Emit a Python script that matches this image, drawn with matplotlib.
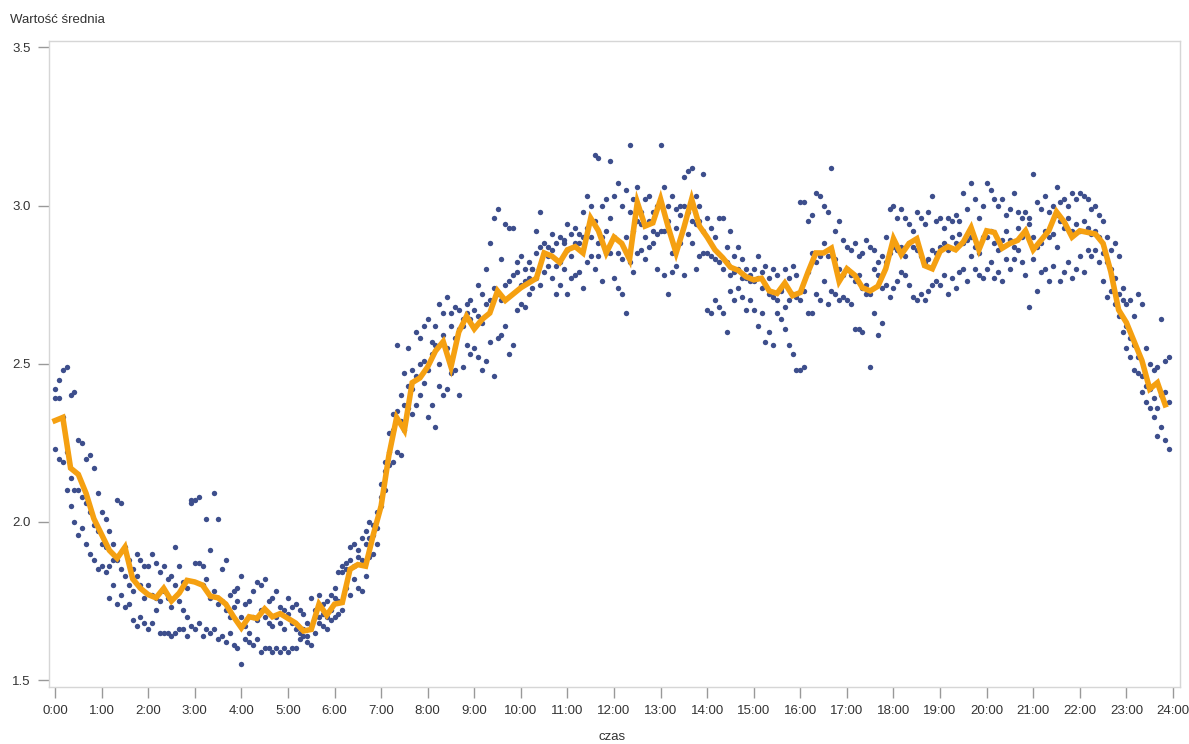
import numpy as np
import matplotlib.pyplot as plt

plt.rcParams["font.family"] = ["Liberation Sans", "DejaVu Sans"]

# orange line: value every 10 minutes, 0:00 .. 23:50
line_vals = [
    2.32, 2.33, 2.17, 2.15, 2.09, 2.01,
    1.96, 1.91, 1.885, 1.92, 1.82, 1.79,
    1.77, 1.76, 1.79, 1.75, 1.775, 1.815,
    1.81, 1.80, 1.765, 1.76, 1.74, 1.70,
    1.665, 1.70, 1.695, 1.725, 1.70, 1.71,
    1.695, 1.68, 1.655, 1.66, 1.74, 1.705,
    1.74, 1.745, 1.85, 1.865, 1.86, 1.96,
    2.05, 2.21, 2.33, 2.29, 2.44, 2.455,
    2.49, 2.54, 2.57, 2.49, 2.60, 2.65,
    2.61, 2.64, 2.66, 2.73, 2.70, 2.72,
    2.74, 2.755, 2.77, 2.85, 2.84, 2.82,
    2.86, 2.87, 2.85, 2.96, 2.92, 2.85,
    2.90, 2.88, 2.83, 3.01, 2.935, 2.945,
    3.02, 2.93, 2.85, 2.93, 3.02, 2.935,
    2.90, 2.86, 2.835, 2.805, 2.795, 2.775,
    2.765, 2.77, 2.73, 2.722, 2.755, 2.715,
    2.725, 2.79, 2.85, 2.85, 2.865, 2.76,
    2.80, 2.78, 2.74, 2.73, 2.745, 2.80,
    2.895, 2.845, 2.88, 2.895, 2.81, 2.80,
    2.855, 2.87, 2.86, 2.885, 2.93, 2.86,
    2.92, 2.915, 2.865, 2.88, 2.89, 2.92,
    2.86, 2.89, 2.92, 2.98, 2.948, 2.90,
    2.92, 2.915, 2.91, 2.88, 2.79, 2.67,
    2.63, 2.57, 2.51, 2.42, 2.44, 2.37,
]

# dots: three readings every 5 minutes, 0:00 .. 23:55 (one row per hour)
dots_a = [
    2.42, 2.45, 2.48, 2.49, 2.40, 2.41, 2.26, 2.25, 2.20, 2.21, 2.17, 2.09,
    2.03, 2.01, 1.97, 1.93, 2.07, 2.06, 1.92, 1.88, 1.85, 1.90, 1.88, 1.86,
    1.86, 1.90, 1.87, 1.84, 1.86, 1.82, 1.83, 1.92, 1.86, 1.81, 1.79, 2.06,
    2.07, 2.08, 1.86, 2.01, 1.91, 2.09, 2.01, 1.85, 1.88, 1.77, 1.78, 1.79,
    1.83, 1.74, 1.75, 1.78, 1.81, 1.80, 1.82, 1.75, 1.76, 1.78, 1.73, 1.72,
    1.76, 1.73, 1.74, 1.72, 1.71, 1.68, 1.76, 1.72, 1.77, 1.74, 1.75, 1.77,
    1.79, 1.84, 1.86, 1.87, 1.92, 1.93, 1.91, 1.95, 1.97, 2.00, 1.99, 2.03,
    2.12, 2.19, 2.28, 2.34, 2.56, 2.40, 2.47, 2.55, 2.48, 2.60, 2.58, 2.62,
    2.64, 2.57, 2.62, 2.69, 2.66, 2.71, 2.66, 2.68, 2.67, 2.62, 2.69, 2.70,
    2.67, 2.75, 2.72, 2.80, 2.88, 2.96, 2.99, 2.83, 2.94, 2.93, 2.93, 2.82,
    2.84, 2.80, 2.82, 2.80, 2.92, 2.98, 2.88, 2.87, 2.91, 2.88, 2.90, 2.89,
    2.94, 2.91, 2.93, 2.91, 2.98, 3.03, 3.00, 3.16, 3.15, 3.00, 3.02, 3.14,
    3.03, 3.07, 3.00, 3.05, 3.19, 3.02, 3.06, 2.98, 3.02, 3.03, 2.98, 3.00,
    3.19, 3.06, 3.00, 3.03, 2.99, 3.00, 3.09, 3.11, 3.12, 3.03, 3.00, 3.10,
    2.96, 2.93, 2.90, 2.96, 2.96, 2.87, 2.92, 2.84, 2.87, 2.83, 2.80, 2.78,
    2.80, 2.84, 2.79, 2.81, 2.77, 2.80, 2.78, 2.74, 2.80, 2.77, 2.81, 2.78,
    3.01, 3.01, 2.95, 2.97, 3.04, 3.03, 3.00, 2.98, 3.12, 2.92, 2.95, 2.89,
    2.87, 2.86, 2.88, 2.84, 2.85, 2.89, 2.87, 2.86, 2.82, 2.84, 2.90, 2.99,
    3.00, 2.96, 2.99, 2.96, 2.94, 2.92, 2.98, 2.96, 2.94, 2.98, 3.03, 2.95,
    2.96, 2.93, 2.96, 2.95, 2.97, 2.95, 3.04, 2.99, 3.07, 3.02, 2.96, 3.00,
    3.07, 3.05, 3.02, 3.00, 3.02, 2.97, 2.99, 3.04, 2.98, 2.96, 2.98, 2.96,
    3.10, 3.01, 2.99, 3.03, 2.98, 3.00, 3.06, 3.01, 3.02, 3.00, 3.04, 3.02,
    3.04, 3.03, 3.02, 2.99, 3.00, 2.97, 2.95, 2.90, 2.86, 2.88, 2.84, 2.74,
    2.69, 2.70, 2.65, 2.72, 2.69, 2.55, 2.50, 2.48, 2.49, 2.64, 2.51, 2.52,
]
dots_b = [
    2.39, 2.39, 2.33, 2.22, 2.14, 2.10, 2.10, 2.08, 2.06, 2.03, 1.99, 1.97,
    1.93, 1.92, 1.86, 1.88, 1.88, 1.85, 1.83, 1.80, 1.78, 1.83, 1.80, 1.76,
    1.80, 1.77, 1.76, 1.75, 1.78, 1.76, 1.73, 1.80, 1.75, 1.72, 1.70, 2.07,
    1.87, 1.87, 1.80, 1.82, 1.76, 1.78, 1.74, 1.75, 1.72, 1.70, 1.73, 1.75,
    1.70, 1.67, 1.65, 1.70, 1.69, 1.72, 1.70, 1.68, 1.67, 1.70, 1.68, 1.66,
    1.71, 1.68, 1.66, 1.65, 1.66, 1.64, 1.67, 1.70, 1.70, 1.71, 1.70, 1.72,
    1.76, 1.75, 1.84, 1.85, 1.88, 1.86, 1.89, 1.88, 1.93, 1.95, 1.96, 1.98,
    2.08, 2.16, 2.22, 2.29, 2.35, 2.32, 2.37, 2.43, 2.42, 2.46, 2.50, 2.51,
    2.48, 2.53, 2.56, 2.50, 2.59, 2.55, 2.62, 2.58, 2.61, 2.64, 2.66, 2.64,
    2.62, 2.65, 2.63, 2.69, 2.70, 2.74, 2.72, 2.70, 2.75, 2.76, 2.78, 2.79,
    2.75, 2.76, 2.77, 2.80, 2.85, 2.87, 2.85, 2.84, 2.86, 2.81, 2.82, 2.88,
    2.86, 2.84, 2.88, 2.88, 2.90, 2.93, 2.90, 2.95, 2.88, 2.90, 2.92, 2.96,
    2.90, 2.85, 2.83, 2.90, 2.98, 2.92, 2.95, 2.94, 2.90, 2.95, 2.92, 2.91,
    3.00, 2.92, 2.95, 2.85, 2.93, 2.97, 3.00, 2.98, 2.95, 2.94, 2.95, 2.92,
    2.85, 2.84, 2.83, 2.82, 2.80, 2.82, 2.78, 2.79, 2.80, 2.77, 2.77, 2.76,
    2.76, 2.77, 2.74, 2.75, 2.72, 2.71, 2.70, 2.73, 2.68, 2.70, 2.72, 2.71,
    2.70, 2.73, 2.79, 2.85, 2.82, 2.84, 2.88, 2.84, 2.86, 2.83, 2.80, 2.78,
    2.80, 2.78, 2.76, 2.78, 2.74, 2.75, 2.72, 2.80, 2.78, 2.74, 2.82, 2.85,
    2.87, 2.86, 2.87, 2.84, 2.88, 2.87, 2.86, 2.84, 2.82, 2.83, 2.86, 2.85,
    2.87, 2.88, 2.86, 2.90, 2.88, 2.91, 2.88, 2.89, 2.90, 2.87, 2.85, 2.90,
    2.90, 2.92, 2.88, 2.86, 2.89, 2.92, 2.89, 2.87, 2.93, 2.90, 2.92, 2.94,
    2.90, 2.87, 2.88, 2.92, 2.90, 2.91, 2.97, 2.95, 2.93, 2.96, 2.92, 2.94,
    2.92, 2.95, 2.93, 2.91, 2.92, 2.90, 2.85, 2.82, 2.80, 2.77, 2.72, 2.70,
    2.62, 2.58, 2.56, 2.52, 2.46, 2.43, 2.42, 2.39, 2.36, 2.40, 2.41, 2.38,
]
dots_c = [
    2.23, 2.20, 2.19, 2.10, 2.05, 2.00, 1.96, 1.98, 1.93, 1.90, 1.88, 1.85,
    1.86, 1.84, 1.76, 1.80, 1.74, 1.77, 1.73, 1.74, 1.69, 1.67, 1.70, 1.68,
    1.66, 1.68, 1.72, 1.65, 1.65, 1.65, 1.64, 1.65, 1.66, 1.66, 1.64, 1.67,
    1.66, 1.68, 1.64, 1.66, 1.65, 1.66, 1.63, 1.64, 1.62, 1.65, 1.61, 1.60,
    1.55, 1.63, 1.62, 1.61, 1.63, 1.59, 1.60, 1.60, 1.59, 1.60, 1.59, 1.60,
    1.59, 1.60, 1.60, 1.63, 1.64, 1.62, 1.61, 1.65, 1.68, 1.67, 1.66, 1.69,
    1.70, 1.71, 1.72, 1.79, 1.77, 1.82, 1.79, 1.78, 1.83, 1.89, 1.90, 1.93,
    2.05, 2.10, 2.18, 2.19, 2.22, 2.21, 2.29, 2.36, 2.34, 2.37, 2.40, 2.44,
    2.33, 2.37, 2.30, 2.43, 2.40, 2.42, 2.47, 2.48, 2.40, 2.49, 2.56, 2.53,
    2.55, 2.52, 2.48, 2.51, 2.57, 2.46, 2.58, 2.59, 2.62, 2.53, 2.56, 2.67,
    2.69, 2.68, 2.72, 2.74, 2.77, 2.75, 2.79, 2.81, 2.77, 2.72, 2.75, 2.80,
    2.72, 2.77, 2.78, 2.79, 2.74, 2.82, 2.84, 2.80, 2.84, 2.76, 2.85, 2.85,
    2.77, 2.74, 2.72, 2.66, 2.82, 2.79, 2.85, 2.86, 2.83, 2.87, 2.88, 2.80,
    2.92, 2.78, 2.72, 2.79, 2.81, 2.88, 2.78, 2.91, 2.88, 2.80, 2.84, 2.85,
    2.67, 2.66, 2.70, 2.68, 2.66, 2.60, 2.73, 2.70, 2.74, 2.71, 2.67, 2.70,
    2.67, 2.62, 2.66, 2.57, 2.60, 2.56, 2.66, 2.64, 2.61, 2.56, 2.53, 2.48,
    2.48, 2.49, 2.66, 2.66, 2.72, 2.70, 2.76, 2.69, 2.73, 2.72, 2.70, 2.71,
    2.70, 2.69, 2.61, 2.61, 2.60, 2.72, 2.49, 2.66, 2.59, 2.63, 2.75, 2.71,
    2.74, 2.76, 2.79, 2.78, 2.75, 2.71, 2.70, 2.72, 2.70, 2.73, 2.75, 2.76,
    2.75, 2.78, 2.72, 2.77, 2.74, 2.79, 2.80, 2.76, 2.84, 2.80, 2.78, 2.77,
    2.80, 2.82, 2.77, 2.79, 2.76, 2.83, 2.80, 2.83, 2.86, 2.82, 2.78, 2.68,
    2.83, 2.73, 2.79, 2.80, 2.76, 2.81, 2.87, 2.76, 2.79, 2.82, 2.77, 2.80,
    2.84, 2.79, 2.86, 2.84, 2.86, 2.82, 2.76, 2.71, 2.73, 2.69, 2.65, 2.60,
    2.55, 2.52, 2.48, 2.47, 2.41, 2.38, 2.36, 2.33, 2.27, 2.30, 2.26, 2.23,
]

hour_labels = [f"{h}:00" for h in range(25)]
y_ticks = [1.5, 2.0, 2.5, 3.0, 3.5]

line_hours = np.arange(len(line_vals)) * 10 / 60
dot_hours = np.arange(len(dots_a)) * 5 / 60

fig = plt.figure(figsize=(11.89, 7.44), dpi=100)
ax = fig.add_axes([0.0412, 0.0766, 0.9512, 0.8683])

dot_color = "#3d4e8c"
for dots in (dots_a, dots_b, dots_c):
    ax.scatter(dot_hours, dots, s=15, color=dot_color, linewidths=0, zorder=2)
ax.plot(line_hours, line_vals, color="#f5a011", lw=4.0, zorder=3,
        solid_joinstyle="miter")

ax.set_xlim(-0.13, 24.15)
ax.set_ylim(1.478, 3.52)
ax.set_xticks(range(25))
ax.set_xticklabels(hour_labels)
ax.set_yticks(y_ticks)
ax.set_yticklabels([f"{v:.1f}" for v in y_ticks])

for side in ax.spines.values():
    side.set_color("#d6d6d6")
    side.set_linewidth(1)
ax.tick_params(axis="both", colors="#999999", length=8, width=1,
               labelcolor="#333333", labelsize=9.5)
ax.tick_params(axis="x", pad=5)
ax.tick_params(axis="y", pad=5)

fig.text(0.0085, 0.973, "Wartość średnia", fontsize=9.5, color="#333333",
         ha="left", va="center")
fig.text(0.515, 0.009, "czas", fontsize=9.5, color="#333333",
         ha="center", va="center")

fig.savefig("out.png", dpi=100)
